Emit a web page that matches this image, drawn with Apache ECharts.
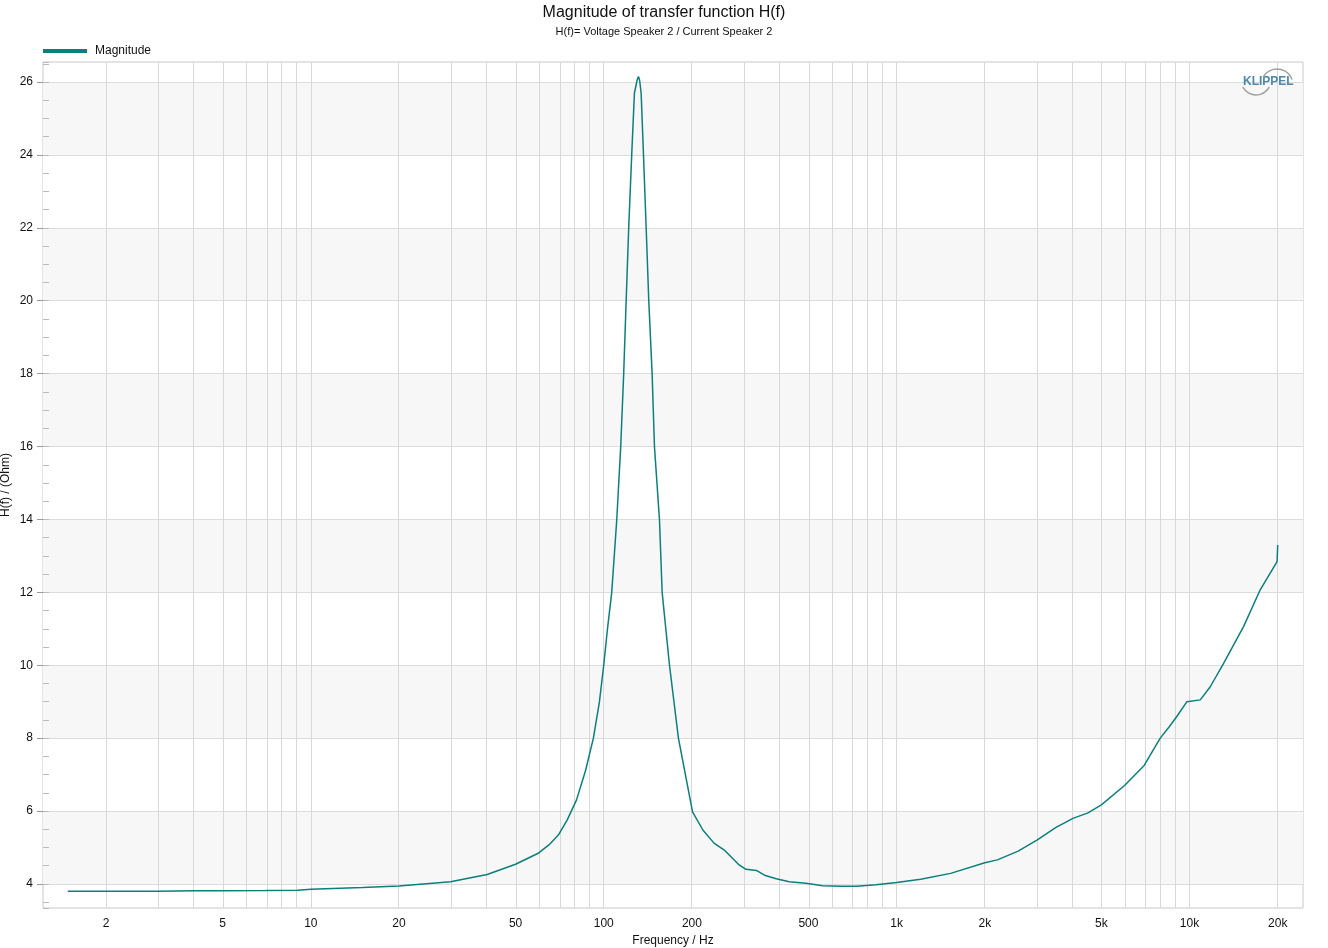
<!DOCTYPE html>
<html>
<head>
<meta charset="utf-8">
<title>Magnitude of transfer function H(f)</title>
<script src="https://cdn.jsdelivr.net/npm/echarts@6.0.0/dist/echarts.min.js"></script>
<style>
  html, body { margin: 0; padding: 0; background: #fff; }
  #chart { width: 1328px; height: 948px; }
</style>
</head>
<body>
<div id="chart"></div>
<script>
// frequency (Hz) and impedance magnitude (Ohm)
var freqs = [1.48, 2, 3, 4, 5, 7, 9, 10, 15, 20, 30, 40, 50, 60, 65, 70, 75,
  80.7, 86.6, 92.2, 96.7, 100, 103, 106.5, 110.8, 114.3, 117, 119.3, 121.7,
  124.6, 127.3, 130, 131.4, 132.6, 134.2, 136.7, 139.6, 142.5, 146.3, 149,
  155, 158.3, 167.7, 179.9, 201, 218, 238, 258, 290, 306, 332, 354, 388, 430,
  490, 559, 650, 730, 850, 1000, 1208, 1529, 2000, 2208, 2600, 3023, 3500,
  4000, 4500, 5000, 6000, 7000, 7943, 8500, 9060, 9797, 10880, 11770, 13070,
  15290, 17430, 19900, 20000];
var magnitude = [3.80, 3.80, 3.80, 3.81, 3.815, 3.82, 3.83, 3.855, 3.90, 3.945,
  4.06, 4.26, 4.54, 4.85, 5.07, 5.34, 5.75, 6.3, 7.1, 8.0, 9.0, 10.0, 11.0,
  12.0, 14.0, 16.0, 18.0, 20.0, 22.0, 24.0, 25.7, 26.05, 26.15, 26.05, 25.7,
  24.0, 22.0, 20.0, 18.0, 16.0, 14.0, 12.0, 10.0, 8.0, 5.98, 5.48, 5.12, 4.93,
  4.52, 4.40, 4.37, 4.24, 4.14, 4.06, 4.02, 3.95, 3.94, 3.94, 3.98, 4.04, 4.13,
  4.29, 4.58, 4.66, 4.9, 5.21, 5.55, 5.8, 5.95, 6.17, 6.7, 7.25, 8.0, 8.3, 8.6,
  9.0, 9.05, 9.41, 10.05, 11.06, 12.07, 12.84, 13.3];

// tick labels
var xTickFreqs = [2, 5, 10, 20, 50, 100, 200, 500, 1000, 2000, 5000, 10000, 20000];
var xTickLabels = ['2', '5', '10', '20', '50', '100', '200', '500', '1k', '2k', '5k', '10k', '20k'];
var yTicks = [4, 6, 8, 10, 12, 14, 16, 18, 20, 22, 24, 26];

var fMin = 1.218, fMax = 24400;
var yMin = 3.34, yMax = 26.55;
var lineColor = '#0b7f7c';
var font = 'Liberation Sans, Arial, sans-serif';

var lg = function (v) { return Math.log10(v); };

// vertical grid lines at 1..9 x decade
var gridFreqs = [];
for (var n = 0; n <= 4; n++) {
  for (var k = 1; k <= 9; k++) {
    var f = k * Math.pow(10, n);
    if (f > fMin && f < fMax) gridFreqs.push(f);
  }
}

var seriesData = freqs.map(function (f, i) { return [lg(f), magnitude[i]]; });
var xTickVals = xTickFreqs.map(lg);

var myChart = echarts.init(document.getElementById('chart'));

var options = {
  animation: false,
  textStyle: { fontFamily: font },
  title: {
    text: 'Magnitude of transfer function H(f)',
    subtext: 'H(f)= Voltage Speaker 2 / Current Speaker 2',
    left: 'center',
    top: 0,
    itemGap: 5,
    textStyle: { fontSize: 16, fontWeight: 'normal', color: '#111', fontFamily: font },
    subtextStyle: { fontSize: 11, color: '#111', fontFamily: font }
  },
  legend: {
    left: 38,
    top: 40,
    icon: 'rect',
    itemWidth: 44,
    itemHeight: 4,
    itemGap: 8,
    textStyle: { fontSize: 12, color: '#111', fontFamily: font, padding: [0, 0, 0, 3] },
    data: ['Magnitude']
  },
  grid: {
    left: 43,
    top: 62,
    right: 25,
    bottom: 40,
    outerBoundsMode: 'none',
    containLabel: false,
    show: true,
    borderColor: '#c8c8c8',
    borderWidth: 1,
    backgroundColor: 'transparent'
  },
  xAxis: {
    type: 'value',
    min: lg(fMin),
    max: lg(fMax),
    name: 'Frequency / Hz',
    nameLocation: 'middle',
    nameGap: 27,
    nameTextStyle: { fontSize: 12, color: '#111', fontFamily: font },
    axisLine: { show: false },
    axisTick: { show: false },
    splitLine: { show: false },
    axisLabel: {
      customValues: xTickVals,
      fontSize: 12,
      color: '#111',
      margin: 10,
      formatter: function (v) {
        var best = 0;
        for (var i = 0; i < xTickVals.length; i++) {
          if (Math.abs(xTickVals[i] - v) < Math.abs(xTickVals[best] - v)) best = i;
        }
        return xTickLabels[best];
      }
    }
  },
  yAxis: [
    {
      type: 'value',
      min: yMin,
      max: yMax,
      splitNumber: 12,
      name: 'H(f) / (Ohm)',
      nameLocation: 'middle',
      nameGap: 31,
      nameMoveOverlap: false,
      nameTextStyle: { fontSize: 12, color: '#111', fontFamily: font },
      axisLine: { show: false },
      axisTick: { show: true, inside: false, length: 6, customValues: yTicks, lineStyle: { color: '#999' } },
      axisLabel: {
        customValues: yTicks,
        fontSize: 12,
        color: '#111',
        margin: 10
      },
      splitLine: { show: true, lineStyle: { color: '#dcdcdc', width: 1 } },
      splitArea: { show: true, areaStyle: { color: ['#f7f7f7', '#ffffff'] } }
    },
    {
      type: 'value',
      min: yMin,
      max: yMax,
      splitNumber: 46,
      position: 'left',
      offset: 0,
      axisLine: { show: false },
      axisTick: { show: true, inside: true, length: 6, lineStyle: { color: '#bbb' } },
      axisLabel: { show: false },
      splitLine: { show: false }
    }
  ],
  series: [
    {
      name: 'Magnitude',
      type: 'line',
      yAxisIndex: 0,
      data: seriesData,
      showSymbol: false,
      symbol: 'none',
      smooth: false,
      lineStyle: { color: lineColor, width: 1.5 },
      itemStyle: { color: lineColor },
      z: 5,
      markLine: {
        silent: true,
        symbol: ['none', 'none'],
        label: { show: false },
        lineStyle: { color: '#d8d8d8', width: 1, type: 'solid' },
        data: gridFreqs.map(function (f) { return { xAxis: lg(f) }; })
      }
    }
  ],
  graphic: [
    {
      type: 'text',
      left: 1243,
      top: 76,
      z: 100,
      style: { text: 'KLIPPEL', font: 'bold 12px ' + font, fill: '#4f87ad' }
    },
    {
      type: 'arc',
      z: 100,
      shape: { cx: 1277, cy: 85, r: 16, startAngle: Math.PI + 0.5, endAngle: 2 * Math.PI - 0.35 },
      style: { stroke: '#a0a0a0', lineWidth: 1.5, fill: null }
    },
    {
      type: 'arc',
      z: 100,
      shape: { cx: 1256, cy: 80, r: 15, startAngle: 0.5, endAngle: Math.PI - 0.5 },
      style: { stroke: '#a0a0a0', lineWidth: 1.5, fill: null }
    }
  ]
};

myChart.setOption(options, true);
</script>
</body>
</html>
